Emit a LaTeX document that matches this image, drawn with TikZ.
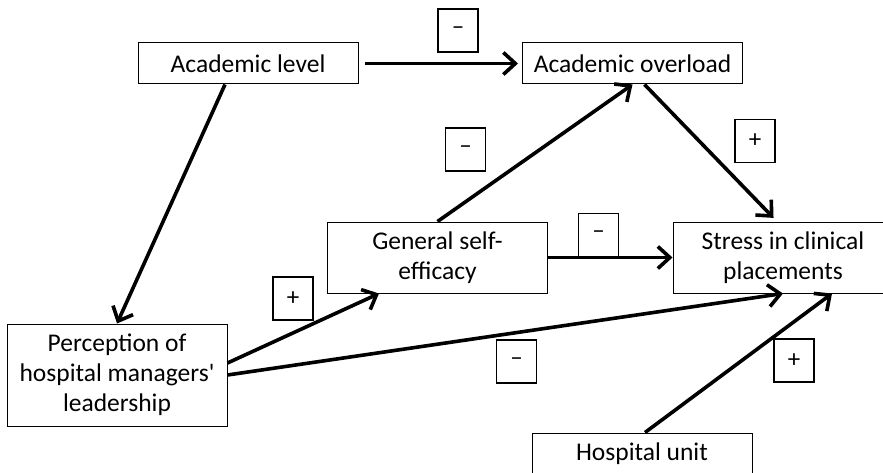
\documentclass[tikz,border=0pt]{standalone}
\usepackage{fontspec}
\setmainfont{Carlito}
\usetikzlibrary{arrows.meta,calc}

\tikzset{
  varbox/.style={draw, line width=1pt, inner sep=0pt, align=center,
    minimum width=220pt, font=\fontsize{25.5}{30}\selectfont},
  signbox/.style={draw, line width=1.3pt, inner sep=0pt,
    minimum width=40pt, minimum height=43pt, font=\fontsize{25}{28}\selectfont},
  link/.style={line width=3.6pt, -{Straight Barb[length=12pt,width=22pt,line width=3.6pt]}}
}

\begin{document}
\begin{tikzpicture}[x=1pt, y=-1pt]
% Page frame
\clip (0,0) rectangle (883,473);

% Draw variable boxes
\node[varbox, minimum height=41pt] (lvl) at (248,63.5) {Academic level};
\node[varbox, minimum height=41pt] (over) at (632.5,63.5) {Academic overload};
\node[varbox, minimum height=71pt] (gse) at (437.5,257.5) {General self-\\efficacy};
\node[varbox, minimum height=71pt] (stress) at (783,257.5) {Stress in clinical\\placements};
\node[varbox, minimum height=102pt] (perc) at (117,375) {Perception of\\hospital managers\textquotesingle\\leadership};
\node[varbox, minimum height=41pt] (unit) at (642,453.5) {Hospital unit};

% Draw arrows
\draw[link, shorten <=6pt, shorten >=4pt] (lvl.east) -- (over.west);
\draw[link] ($(lvl.south)+(-23,0)$) -- (perc.north);
\draw[link] (gse.north) -- (over.south);
\draw[link, shorten >=5pt] ($(over.south)+(12,0)$) -- ($(stress.north)+(-6,0)$);
\draw[link] (gse.east) -- (stress.west);
\draw[link] ($(perc.east)+(0,-12)$) -- ($(gse.south west)+(52,0)$);
\draw[link] (perc.east) -- (stress.south);
\draw[link] ($(unit.north)+(3,0)$) -- ($(stress.south)+(49,0)$);

% Label sign boxes
\node[signbox] (s1) at (458,30.5) {–};
\node[signbox] (s2) at (465.5,149.5) {–};
\node[signbox] (s3) at (755,141) {+};
\node[signbox] (s4) at (598.5,235) {–};
\node[signbox] (s5) at (293,298.5) {+};
\node[signbox] (s6) at (516.5,361.5) {–};
\node[signbox] (s7) at (794,360.5) {+};
\end{tikzpicture}
\end{document}
